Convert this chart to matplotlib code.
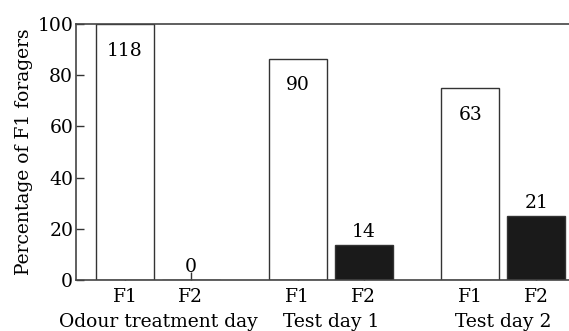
import matplotlib
matplotlib.use("Agg")
import matplotlib.pyplot as plt

plt.rcParams['font.family'] = ['DejaVu Serif']

groups = ["Odour treatment day", "Test day 1", "Test day 2"]
bar_labels = ["F1", "F2", "F1", "F2", "F1", "F2"]
counts = [118, 0, 90, 14, 63, 21]
percent = [100.0, 0.0, 86.5, 13.5, 75.0, 25.0]
fills = ["white", "white", "white", "#1a1a1a", "white", "#1a1a1a"]

group_starts = [0.0, 2.62, 5.23]
positions = []
for g in group_starts:
    positions += [g, g + 1.0]

fig = plt.figure(figsize=(5.69, 3.31), dpi=100)
ax = fig.add_axes([76 / 569, 1 - 280 / 331, 1 - 76 / 569, 256 / 331])

ax.bar(positions, percent, width=0.88, color=fills, edgecolor="#333333",
       linewidth=1.0, zorder=2)

fs = 13.5
for x, p, c in zip(positions, percent, counts):
    if p > 50:
        ax.text(x, p - 7.0, str(c), ha="center", va="top", fontsize=fs)
    else:
        ax.text(x, p + 1.6, str(c), ha="center", va="bottom", fontsize=fs)

ax.set_xlim(-0.742, 6.727)
ax.set_ylim(0, 100)
ax.set_yticks([0, 20, 40, 60, 80, 100])
ax.set_xticks(positions)
ax.set_xticklabels(bar_labels)
ax.tick_params(axis="both", direction="in", length=6, width=1.0,
               color="#333333", labelsize=fs, pad=2)
ax.tick_params(axis="x", pad=6)

for s in ["left", "bottom", "top"]:
    ax.spines[s].set_color("#444444")
    ax.spines[s].set_linewidth(1.2)
ax.spines["right"].set_visible(False)

ax.set_ylabel("Percentage of F1 foragers", fontsize=fs, labelpad=3)

for g, name in zip(group_starts, groups):
    ax.text(g + 0.5, -0.13, name, transform=ax.get_xaxis_transform(),
            ha="center", va="top", fontsize=fs)

fig.savefig("out.png", dpi=100)
